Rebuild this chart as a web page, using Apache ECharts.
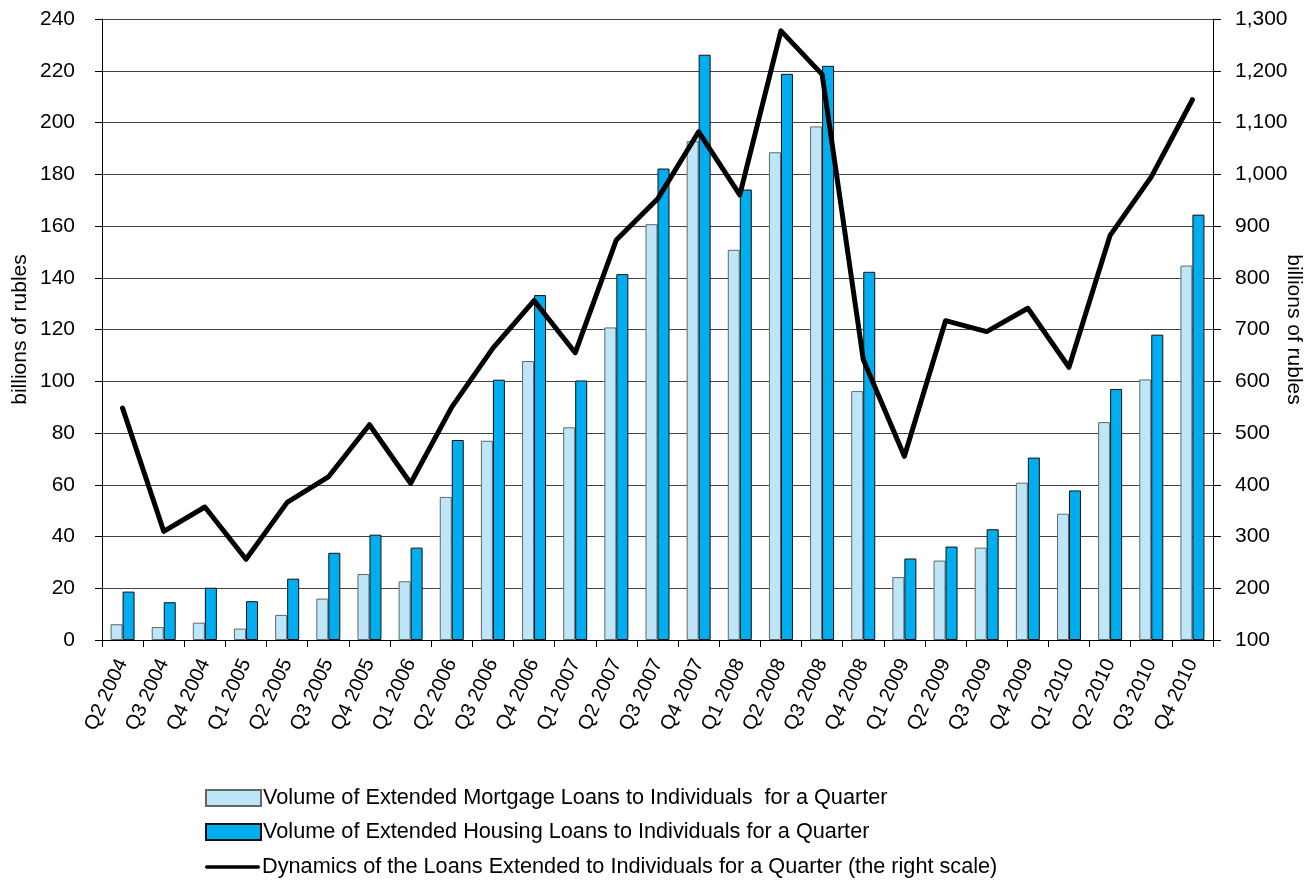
<!DOCTYPE html>
<html>
<head>
<meta charset="utf-8">
<script src="https://cdn.jsdelivr.net/npm/echarts@6/dist/echarts.min.js"></script>
<style>
html,body{margin:0;padding:0;background:#fff;overflow:hidden;}
#chart{width:1316px;height:881px;}
</style>
</head>
<body>
<div id="chart"></div>
<script>
const categories = ["Q2 2004","Q3 2004","Q4 2004","Q1 2005","Q2 2005","Q3 2005","Q4 2005","Q1 2006","Q2 2006","Q3 2006","Q4 2006","Q1 2007","Q2 2007","Q3 2007","Q4 2007","Q1 2008","Q2 2008","Q3 2008","Q4 2008","Q1 2009","Q2 2009","Q3 2009","Q4 2009","Q1 2010","Q2 2010","Q3 2010","Q4 2010"];
const mortgageLoans = [6.1, 5.0, 6.7, 4.4, 9.7, 16.0, 25.5, 22.7, 55.3, 77.0, 107.8, 82.2, 120.8, 160.7, 192.8, 150.8, 188.5, 198.5, 96.2, 24.3, 30.7, 35.7, 60.8, 48.8, 84.2, 100.7, 144.7];
const housingLoans = [18.7, 14.6, 20.2, 15.0, 23.7, 33.7, 40.7, 35.7, 77.3, 100.6, 133.3, 100.3, 141.4, 182.2, 226.2, 174.1, 218.8, 221.9, 142.3, 31.5, 36.1, 42.8, 70.5, 57.8, 97.0, 118.0, 164.4];
const totalLoans = [548, 310, 357, 256, 366, 415, 516, 403, 550, 664, 756, 655, 873, 952, 1082, 960, 1277, 1193, 642, 455, 717, 696, 741, 627, 882, 995, 1144];
const seriesNames = [
  "Volume of Extended Mortgage Loans to Individuals  for a Quarter",
  "Volume of Extended Housing Loans to Individuals for a Quarter",
  "Dynamics of the Loans Extended to Individuals for a Quarter (the right scale)"
];
const axisName = "billions of rubles";

const FONT = "'Liberation Sans', Arial, Helvetica, sans-serif";
const legendCenters = [798, 832, 867];
const legendIcons = ['rect', 'rect', 'path://M3,0 L97,0 A3,3 0 0 1 97,6 L3,6 A3,3 0 0 1 3,0 Z'];

const chart = echarts.init(document.getElementById('chart'), null, {renderer: 'canvas', width: 1316, height: 881});
chart.setOption({
  animation: false,
  backgroundColor: '#ffffff',
  textStyle: {fontFamily: FONT, color: '#000'},
  grid: {left: 102, right: 103, top: 19, bottom: 241, containLabel: false, outerBoundsMode: 'none'},
  legend: seriesNames.map((n, i) => ({
    orient: 'horizontal',
    left: 205,
    top: legendCenters[i] - 13,
    height: 26,
    padding: 0,
    itemWidth: 55,
    itemHeight: 16,
    textStyle: {fontFamily: FONT, fontSize: 21.7, lineHeight: 26, color: '#000', padding: [0,0,0,-3]},
    data: [i === 2
      ? {name: n, icon: legendIcons[i], itemStyle: {color: '#000', borderWidth: 0}}
      : {name: n, icon: legendIcons[i]}]
  })),
  xAxis: {
    type: 'category',
    data: categories,
    boundaryGap: true,
    axisLine: {lineStyle: {color: '#000', width: 1}},
    axisTick: {show: true, inside: false, length: 7, alignWithLabel: false, lineStyle: {color: '#000'}},
    axisLabel: {rotate: 65, interval: 0, margin: 20, fontSize: 20, color: '#000', fontFamily: FONT},
    splitLine: {show: false}
  },
  yAxis: [
    {
      type: 'value', min: 0, max: 240, interval: 20, position: 'left',
      name: axisName, nameLocation: 'middle', nameGap: 71, nameRotate: 90, nameMoveOverlap: false,
      nameTextStyle: {fontSize: 21, color: '#000', fontFamily: FONT},
      axisLine: {show: true, lineStyle: {color: '#000', width: 1}},
      axisTick: {show: true, inside: false, length: 7, lineStyle: {color: '#000'}},
      axisLabel: {fontSize: 21, color: '#000', margin: 27, fontFamily: FONT},
      splitLine: {show: true, lineStyle: {color: '#444', width: 1.2}}
    },
    {
      type: 'value', min: 100, max: 1300, interval: 100, position: 'right',
      name: axisName, nameLocation: 'middle', nameGap: 70, nameRotate: -90, nameMoveOverlap: false,
      nameTextStyle: {fontSize: 21, color: '#000', fontFamily: FONT},
      axisLine: {show: true, lineStyle: {color: '#000', width: 1}},
      axisTick: {show: true, inside: false, length: 8, lineStyle: {color: '#000'}},
      axisLabel: {fontSize: 21, color: '#000', margin: 22, fontFamily: FONT,
        formatter: v => v.toLocaleString('en-US')},
      splitLine: {show: false}
    }
  ],
  series: [
    {
      name: seriesNames[0], type: 'bar', yAxisIndex: 0, data: mortgageLoans,
      barWidth: 12, barGap: '0%',
      itemStyle: {color: '#BDE6F9', borderColor: '#666', borderWidth: 1}
    },
    {
      name: seriesNames[1], type: 'bar', yAxisIndex: 0, data: housingLoans,
      barWidth: 12, barGap: '0%',
      itemStyle: {color: '#00AEEF', borderColor: '#111', borderWidth: 1}
    },
    {
      name: seriesNames[2], type: 'line', yAxisIndex: 1, data: totalLoans,
      symbol: 'none', z: 5,
      lineStyle: {color: '#000', width: 5, join: 'round', cap: 'round'},
      itemStyle: {color: '#000'}
    }
  ]
});
</script>
</body>
</html>
